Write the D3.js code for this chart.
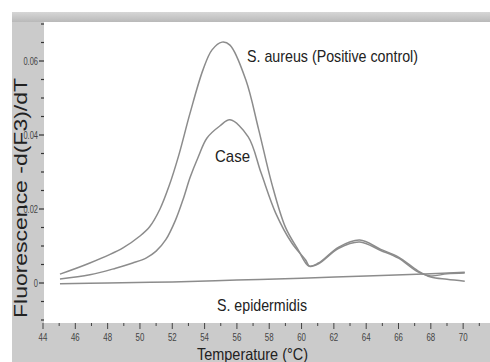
<!DOCTYPE html>
<html><head><meta charset="utf-8">
<script src="https://cdn.jsdelivr.net/npm/d3@7"></script>
<style>body{margin:0;background:#fff}svg{display:block}</style>
</head><body>
<svg id="c" width="490" height="362"></svg>
<script>
// Data
const aureusT = [45.05,46.9,48.95,50.0,50.6,51.24,51.8,52.4,53.1,53.9,54.46,55.08,55.57,56.55,57.35,58.15,59.0,59.8,60.45,61.05,62.3,63.6,64.9,66.0,67.2,68.0,69.0,70.1];
const aureusV = [0.0024,0.0054,0.0095,0.0127,0.0152,0.0200,0.0262,0.0345,0.0459,0.0576,0.0630,0.0651,0.0643,0.0549,0.0414,0.0270,0.0151,0.0089,0.0046,0.0054,0.0097,0.0116,0.0091,0.0070,0.0033,0.0016,0.0010,0.0005];
const caseT = [45.05,46.9,48.5,49.55,50.4,51.0,51.6,52.2,52.7,53.1,53.6,54.15,54.96,55.57,56.7,57.5,58.4,59.4,60.25,60.5,61.05,62.3,63.6,64.9,66.0,67.2,68.0,69.0,70.1];
const caseV = [0.0011,0.0022,0.0040,0.0054,0.0068,0.0086,0.0117,0.0170,0.0230,0.0285,0.0340,0.0392,0.0425,0.0441,0.0395,0.0297,0.0189,0.0108,0.0062,0.0045,0.0052,0.0094,0.0111,0.0088,0.0067,0.0030,0.0019,0.0025,0.0027];
const epiT = [45.05,48,52,56,60,64,68,70.1];
const epiV = [-0.0002,0.0000,0.0003,0.0008,0.0013,0.0019,0.0025,0.0029];
const xTicks = [44,46,48,50,52,54,56,58,60,62,64,66,68,70];
const yTicks = [0,0.02,0.04,0.06];
const yTickLabels = ["0","0.02","0.04","0.06"];

const svg = d3.select("#c");
const x = d3.scaleLinear().domain([44,71.6]).range([43,489]);
const y = d3.scaleLinear().domain([-0.01,0.07]).range([320,24]);

// frame
const defs = svg.append("defs");
const g1 = defs.append("linearGradient").attr("id","tb").attr("x1",0).attr("x2",0).attr("y1",0).attr("y2",1);
g1.append("stop").attr("offset","0").attr("stop-color","#d6d6d6");
g1.append("stop").attr("offset","1").attr("stop-color","#b9b9b9");
svg.append("rect").attr("x",12).attr("y",12).attr("width",478).attr("height",350).attr("fill","#cbcbcb");
svg.append("rect").attr("x",12).attr("y",12).attr("width",478).attr("height",10).attr("fill","url(#tb)");
svg.append("rect").attr("x",44).attr("y",22).attr("width",446).attr("height",301).attr("fill","#fff");

const tickFont = "Liberation Sans Narrow, Liberation Sans, Arial";
// y ticks
const yMinor = d3.range(-0.01,0.0701,0.005);
svg.selectAll(".yt").data(yMinor).join("line")
  .attr("x1",d=>Math.abs(d/0.02-Math.round(d/0.02))<1e-6?39:41).attr("x2",44)
  .attr("y1",d=>y(d)).attr("y2",d=>y(d)).attr("stroke","#333").attr("stroke-width",1.2);
svg.selectAll(".yl").data(yTicks).join("g")
  .attr("transform",d=>`translate(38,${y(d)+3.5}) scale(0.75,1)`)
  .append("text").attr("text-anchor","end")
  .attr("font-family",tickFont).attr("font-size",10).attr("fill","#444")
  .text((d,i)=>yTickLabels[i]);

// x ticks
const xMinor = d3.range(44,72,1);
svg.selectAll(".xt").data(xMinor).join("line")
  .attr("x1",d=>x(d)).attr("x2",d=>x(d)).attr("y1",323).attr("y2",d=>d%2===0?329:326)
  .attr("stroke","#444").attr("stroke-width",1);
svg.selectAll(".xl").data(xTicks).join("g")
  .attr("transform",d=>`translate(${x(d)},341) scale(0.75,1)`)
  .append("text").attr("text-anchor","middle")
  .attr("font-family",tickFont).attr("font-size",10.5).attr("fill","#444")
  .text(d=>d);

// curves
const line = d3.line().x(d=>x(d[0])).y(d=>y(d[1])).curve(d3.curveCatmullRom.alpha(0.5));
const series = [[epiT,epiV],[caseT,caseV],[aureusT,aureusV]];
series.forEach(([t,v])=>{
  const pts = t.map((d,i)=>[d,v[i]]);
  svg.append("path").datum(pts).attr("d",line).attr("fill","none")
    .attr("stroke","#8c8c8c").attr("stroke-width",1.5);
});

// labels
const lab = (txt,xx,yy,fs,len)=>svg.append("text").attr("x",xx).attr("y",yy)
  .attr("font-family","Liberation Sans, Arial").attr("font-size",fs).attr("fill","#222")
  .attr("textLength",len).attr("lengthAdjust","spacingAndGlyphs").text(txt);
lab("S. aureus (Positive control)",247,62,17,171);
lab("Case",215,162,17,35);
lab("S. epidermidis",217,311,17,90);
lab("Temperature (°C)",197,360,16.5,111);
svg.append("text").attr("transform","translate(27,198) rotate(-90)").attr("text-anchor","middle")
  .attr("font-family","Liberation Sans, Arial").attr("font-size",18).attr("fill","#222")
  .attr("textLength",240).attr("lengthAdjust","spacingAndGlyphs")
  .text("Fluorescence -d(F3)/dT");
</script>
</body></html>
